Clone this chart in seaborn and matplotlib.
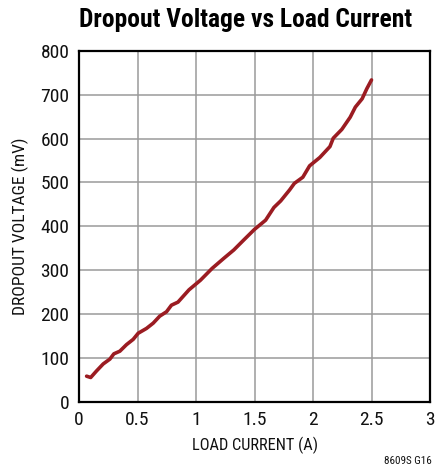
import matplotlib
matplotlib.use("Agg")
import matplotlib.pyplot as plt
import numpy as np
import pandas as pd
import seaborn as sns

# values
load_current = [0.065, 0.10, 0.15, 0.207, 0.264, 0.298, 0.349, 0.406, 0.463, 0.506,
                0.577, 0.634, 0.69, 0.748, 0.79, 0.846, 0.94, 1.038, 1.138, 1.238,
                1.323, 1.409, 1.5, 1.595, 1.666, 1.724, 1.80, 1.841, 1.913, 1.971,
                2.058, 2.145, 2.173, 2.246, 2.318, 2.362, 2.42, 2.46, 2.5]
dropout_mv = [58, 55, 70, 86, 97, 109, 115, 130, 142, 156,
              167, 179, 195, 205, 220, 227, 255, 277, 304, 327,
              346, 369, 393, 414, 443, 458, 483, 498, 512, 538,
              557, 582, 601, 621, 649, 672, 691, 714, 734]
x_ticks = [0, 0.5, 1, 1.5, 2, 2.5, 3]
x_tick_labels = ["0", "0.5", "1", "1.5", "2", "2.5", "3"]
y_ticks = [0, 100, 200, 300, 400, 500, 600, 700, 800]

df = pd.DataFrame({"current": load_current, "voltage": dropout_mv})

sns.set_style("white")
plt.rcParams['font.family'] = ['Roboto Condensed', 'Liberation Sans', 'DejaVu Sans']

fig = plt.figure(figsize=(4.37, 4.69), dpi=100)
ax = fig.add_axes([79 / 437, 1 - 401.6 / 469, (430 - 79) / 437, (401.6 - 51) / 469])

sns.lineplot(data=df, x="current", y="voltage", ax=ax, color="#9b1c22", linewidth=2.6)

ax.set_xlim(0, 3)
ax.set_ylim(0, 800)
ax.set_xticks(x_ticks)
ax.set_xticklabels(x_tick_labels)
ax.set_yticks(y_ticks)
ax.grid(True, color="#9a9a9a", linewidth=1.1)
ax.set_axisbelow(True)
ax.tick_params(length=0, labelsize=14, pad=7, colors="#111111")
for s in ax.spines.values():
    s.set_color("black")
    s.set_linewidth(1.6)

ax.set_xlabel("LOAD CURRENT (A)", fontsize=11.8, labelpad=5, color="#111111")
ax.set_ylabel("DROPOUT VOLTAGE (mV)", fontsize=12.6, labelpad=8, color="#111111")

fig.text(0.561, 0.957, "Dropout Voltage vs Load Current", ha="center", va="center",
         fontsize=18.4, fontweight="bold", color="black")
fig.text(0.988, 0.006, "8609S G16", ha="right", va="bottom", fontsize=8, color="#111111")

plt.savefig("out.png", dpi=100)
